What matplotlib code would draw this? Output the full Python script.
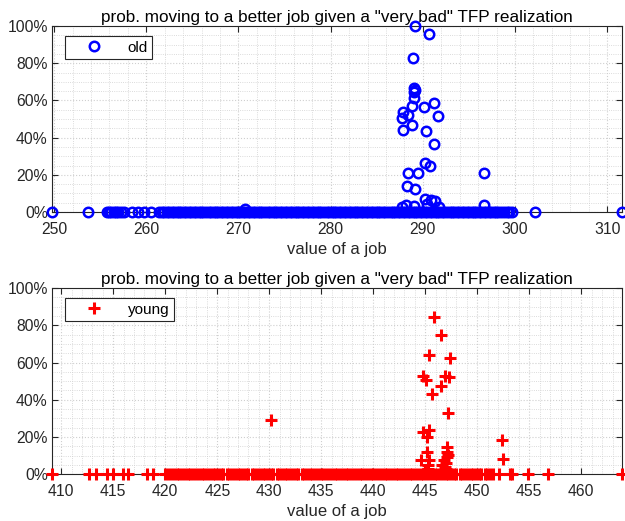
import matplotlib
matplotlib.use("Agg")
import matplotlib.pyplot as plt
from matplotlib.ticker import MultipleLocator, PercentFormatter

plt.rcParams["font.family"] = ["Liberation Sans", "DejaVu Sans"]

TITLE = 'prob. moving to a better job given a "very bad" TFP realization'
XLABEL = "value of a job"

# old workers: job values with zero probability
OLD_ZERO_X = [
    249.75, 253.7, 255.7, 255.95, 256.2, 256.45, 256.7, 256.95, 257.2, 257.6, 258.4, 259.1,
    259.8, 260.5,
    261.4, 261.7, 261.95, 262.2, 262.5, 262.75, 263.0, 263.3, 263.55, 263.8, 264.1, 264.35,
    264.6, 264.9, 265.15, 265.4, 265.7, 265.95, 266.2, 266.5, 266.75, 267.0, 267.3, 267.55,
    267.8, 268.1, 268.35, 268.6, 268.9, 269.15, 269.4, 269.7, 269.95, 270.2, 270.5, 270.75,
    271.0, 271.3, 271.55, 271.8, 272.1, 272.35, 272.6, 272.9, 273.15, 273.4, 273.7, 273.95,
    274.2, 274.5, 274.75, 275.0, 275.3, 275.55, 275.8, 276.1, 276.35, 276.6, 276.9, 277.15,
    277.4, 277.7, 277.95, 278.2, 278.5, 278.75, 279.0, 279.3, 279.55, 279.8, 280.1, 280.35,
    280.6, 280.9, 281.15, 281.4, 281.7, 281.95, 282.2, 282.5, 282.75, 283.0, 283.3, 283.55,
    283.8, 284.1, 284.35, 284.6, 284.9, 285.15, 285.4, 285.7, 285.95, 286.2, 286.5, 286.75,
    287.0, 287.3, 287.55, 287.8, 288.1, 288.35, 288.6, 288.9, 289.15, 289.4, 289.7, 289.95,
    290.2, 290.5, 290.75, 291.0, 291.3, 291.55, 291.8, 292.1, 292.35, 292.6, 292.9, 293.15,
    293.4, 293.7, 293.95, 294.2, 294.5, 294.75, 295.0, 295.3, 295.55, 295.8, 296.1, 296.35,
    296.6, 296.9, 297.15, 297.4, 297.7, 297.95, 298.2, 298.5, 298.8, 299.1, 299.4, 299.7,
    302.2, 311.6,
]
# old workers: job values with positive probability
OLD_POS_X = [
    289.1, 290.7, 288.9, 289.0, 289.1, 289.0, 288.8, 289.0, 291.2, 290.1, 287.9, 287.7,
    288.4, 291.7, 288.8, 287.9, 290.3, 291.2, 290.2, 290.8, 288.4, 289.5, 296.6, 288.3,
    289.1, 290.2, 290.9, 291.3, 288.2, 287.7, 296.6, 291.8, 270.7, 289.0, 290.5,
]
OLD_POS_Y = [
    1.00, 0.955, 0.826, 0.665, 0.656, 0.647, 0.57, 0.615, 0.584, 0.563, 0.54, 0.504,
    0.52, 0.518, 0.468, 0.44, 0.435, 0.366, 0.265, 0.247, 0.21, 0.21, 0.211, 0.14,
    0.122, 0.07, 0.065, 0.06, 0.04, 0.025, 0.04, 0.025, 0.015, 0.03, 0.045,
]

# young workers: job values with zero probability
YOUNG_ZERO_X = [
    409.1, 412.7, 413.3, 414.4, 415.0, 415.9, 416.4, 418.2, 418.8,
    420.0, 420.3, 420.55, 420.8, 421.1, 421.35, 421.6, 421.9, 422.15, 422.4, 422.7, 422.95,
    423.2, 423.5, 423.75, 424.0, 424.3, 424.55, 424.8, 425.1, 425.35, 425.6, 425.9, 426.15,
    426.4, 426.7, 426.95, 427.2, 427.5, 427.75, 428.0, 428.3, 428.55, 428.8, 429.1, 429.35,
    429.6, 429.9, 430.15, 430.4, 430.7, 430.95, 431.2, 431.5, 431.75, 432.0, 432.3, 432.55,
    432.8, 433.1, 433.35, 433.6, 433.9, 434.15, 434.4, 434.7, 434.95, 435.2, 435.5, 435.75,
    436.0, 436.3, 436.55, 436.8, 437.1, 437.35, 437.6, 437.9, 438.15, 438.4, 438.7, 438.95,
    439.2, 439.5, 439.75, 440.0, 440.3, 440.55, 440.8, 441.1, 441.35, 441.6, 441.9, 442.15,
    442.4, 442.7, 442.95, 443.2, 443.5, 443.75, 444.0, 444.3, 444.55, 444.8, 445.1, 445.35,
    445.6, 445.9, 446.15, 446.4, 446.7, 446.95, 447.2, 447.5, 447.75, 448.0, 448.3, 448.55,
    448.8, 449.1, 449.35, 449.6, 449.9, 450.15, 450.4, 450.7, 450.95, 451.2, 451.5,
    452.1, 453.1, 453.3, 454.9, 456.8, 463.9,
]
# young workers: job values with positive probability
YOUNG_POS_X = [
    445.8, 446.5, 445.4, 447.4, 444.8, 446.9, 447.3, 445.1, 446.5, 445.6, 447.2, 444.8,
    445.4, 445.2, 452.4, 452.5, 447.1, 447.1, 445.2, 444.6, 445.4, 447.1, 446.8, 445.3,
    445.3, 446.6, 446.9, 447.0, 430.2, 446.8, 445.0, 446.7, 447.0, 447.2,
]
YOUNG_POS_Y = [
    0.846, 0.747, 0.643, 0.622, 0.529, 0.527, 0.52, 0.505, 0.473, 0.43, 0.326, 0.228,
    0.237, 0.20, 0.186, 0.079, 0.147, 0.12, 0.12, 0.075, 0.075, 0.09, 0.075, 0.05,
    0.03, 0.05, 0.04, 0.025, 0.29, 0.02, 0.01, 0.01, 0.06, 0.105,
]

AX_COLOR = "#262626"
GRID_COLOR = "#cfcfcf"


def style_axes(ax, x_major, x_minor):
    ax.set_ylim(0, 1)
    ax.yaxis.set_major_locator(MultipleLocator(0.2))
    ax.yaxis.set_minor_locator(MultipleLocator(0.05))
    ax.yaxis.set_major_formatter(PercentFormatter(1.0, decimals=0))
    ax.xaxis.set_major_locator(MultipleLocator(x_major))
    ax.xaxis.set_minor_locator(MultipleLocator(x_minor))
    ax.grid(True, which="major", linestyle=":", color=GRID_COLOR, linewidth=0.8)
    ax.grid(True, which="minor", linestyle=":", color=GRID_COLOR, linewidth=0.6)
    ax.set_axisbelow(True)
    ax.tick_params(which="major", direction="in", length=4, width=0.8, colors=AX_COLOR,
                   top=True, right=True, labelsize=11.3, pad=3)
    ax.tick_params(axis="x", which="major", pad=7)
    ax.tick_params(which="minor", length=0)
    for spine in ax.spines.values():
        spine.set_color(AX_COLOR)
        spine.set_linewidth(0.8)
    ax.set_title(TITLE, fontsize=12.3, color="black", pad=3)
    ax.set_xlabel(XLABEL, fontsize=12, color=AX_COLOR, labelpad=4)


def main() -> None:
    fig = plt.figure(figsize=(6.25, 5.21), dpi=100)
    ax1 = fig.add_axes([0.083, 0.593, 0.912, 0.357])
    ax2 = fig.add_axes([0.083, 0.090, 0.912, 0.357])

    ax1.plot(OLD_ZERO_X + OLD_POS_X, [0.0] * len(OLD_ZERO_X) + OLD_POS_Y, "o",
             color="blue", mfc="none", ms=6.8, mew=1.8, clip_on=False, zorder=3,
             label="old")
    ax1.set_xlim(249.75, 311.6)
    style_axes(ax1, 10, 2)

    ax2.plot(YOUNG_ZERO_X + YOUNG_POS_X, [0.0] * len(YOUNG_ZERO_X) + YOUNG_POS_Y, "+",
             color="red", ms=8.4, mew=2.2, clip_on=False, zorder=3, label="young")
    ax2.set_xlim(409.1, 463.9)
    style_axes(ax2, 5, 1)

    for ax in (ax1, ax2):
        leg = ax.legend(loc="upper left", bbox_to_anchor=(0.0228, 0.946), borderaxespad=0,
                        fontsize=11, handlelength=3.2, handletextpad=0.6, borderpad=0.3,
                        fancybox=False, framealpha=1, edgecolor=AX_COLOR)
        leg.get_frame().set_linewidth(0.8)
        leg.set_zorder(5)

    fig.savefig("out.png", dpi=100)


if __name__ == "__main__":
    main()
